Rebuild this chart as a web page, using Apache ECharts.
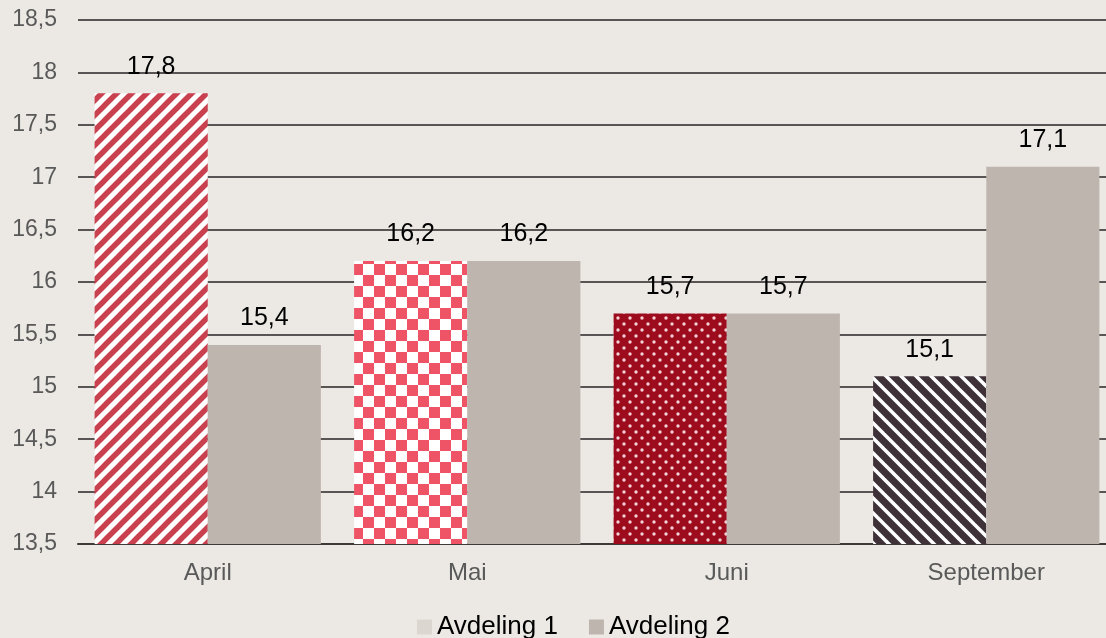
<!DOCTYPE html>
<html>
<head>
<meta charset="utf-8">
<script src="https://cdn.jsdelivr.net/npm/echarts@6/dist/echarts.min.js"></script>
<style>
  html, body { margin: 0; padding: 0; background: #ece9e4; }
  #chart { width: 1106px; height: 638px; }
</style>
</head>
<body>
<div id="chart"></div>
<script>
const categories = ['April', 'Mai', 'Juni', 'September'];
const avdeling1 = [17.8, 16.2, 15.7, 15.1];
const avdeling2 = [15.4, 16.2, 15.7, 17.1];
const seriesNames = ['Avdeling 1', 'Avdeling 2'];

const FONT = "'Liberation Sans', Arial, sans-serif";

// small canvas tiles used as bar fills
function tile(size, draw) {
  const c = document.createElement('canvas');
  c.width = size;
  c.height = size;
  const ctx = c.getContext('2d');
  draw(ctx, size);
  return { image: c, repeat: 'repeat' };
}

function stripes(bg, fg, width, up) {
  return tile(15, (ctx, s) => {
    ctx.fillStyle = bg;
    ctx.fillRect(0, 0, s, s);
    ctx.strokeStyle = fg;
    ctx.lineWidth = width;
    for (let k = -1; k <= 1; k++) {
      ctx.beginPath();
      if (up) {
        ctx.moveTo(k * s - 2, s + 2);
        ctx.lineTo(k * s + s + 2, -2);
      } else {
        ctx.moveTo(k * s - 2, -2);
        ctx.lineTo(k * s + s + 2, s + 2);
      }
      ctx.stroke();
    }
  });
}

const checker = tile(22, (ctx, s) => {
  ctx.fillStyle = '#ffffff';
  ctx.fillRect(0, 0, s, s);
  ctx.fillStyle = '#ef5466';
  ctx.fillRect(0, 0, s / 2, s / 2);
  ctx.fillRect(s / 2, s / 2, s / 2, s / 2);
});

const dots = tile(12, (ctx, s) => {
  ctx.fillStyle = '#9c0c1c';
  ctx.fillRect(0, 0, s, s);
  ctx.fillStyle = '#f3d0d4';
  [[0, 0], [s, 0], [0, s], [s, s], [s / 2, s / 2]].forEach(([x, y]) => {
    ctx.beginPath();
    ctx.arc(x, y, 1.7, 0, Math.PI * 2);
    ctx.fill();
  });
});

const fills1 = [
  stripes('#ffffff', '#c9404f', 5.5, true),
  checker,
  dots,
  stripes('#3e3137', '#ffffff', 3.5, false)
];

const chart = echarts.init(document.getElementById('chart'));

const labelOpt = {
  show: true,
  position: 'top',
  distance: 14,
  color: '#000000',
  fontSize: 25,
  fontFamily: FONT,
  formatter: p => String(p.value).replace('.', ',')
};

chart.setOption({
  backgroundColor: '#ece9e4',
  animation: false,
  grid: { left: 78, width: 1038, top: 20, bottom: 94, outerBoundsMode: 'none' },
  legend: {
    left: 412,
    bottom: -7,
    itemWidth: 15,
    itemHeight: 15,
    itemGap: 31,
    icon: 'rect',
    textStyle: { fontSize: 26, color: '#000000', fontFamily: FONT },
    data: seriesNames
  },
  xAxis: {
    type: 'category',
    data: categories,
    axisTick: { show: false },
    axisLine: { lineStyle: { color: '#3f3a3a', width: 2 } },
    axisLabel: { color: '#595959', fontSize: 24, margin: 17, fontFamily: FONT }
  },
  yAxis: {
    type: 'value',
    min: 13.5,
    max: 18.5,
    interval: 0.5,
    axisLine: { show: false },
    axisTick: { show: false },
    splitLine: { lineStyle: { color: '#5a5555', width: 2 } },
    axisLabel: {
      color: '#595959',
      fontSize: 23,
      margin: 21,
      fontFamily: FONT,
      formatter: v => String(v).replace('.', ',')
    }
  },
  series: [
    {
      name: seriesNames[0],
      type: 'bar',
      barWidth: '43.6%',
      barGap: '0%',
      itemStyle: { color: '#dcd6d0' },
      label: labelOpt,
      data: avdeling1.map((v, i) => ({ value: v, itemStyle: { color: fills1[i] } }))
    },
    {
      name: seriesNames[1],
      type: 'bar',
      barWidth: '43.6%',
      itemStyle: { color: '#bfb5af' },
      label: labelOpt,
      data: avdeling2
    }
  ]
});
</script>
</body>
</html>
